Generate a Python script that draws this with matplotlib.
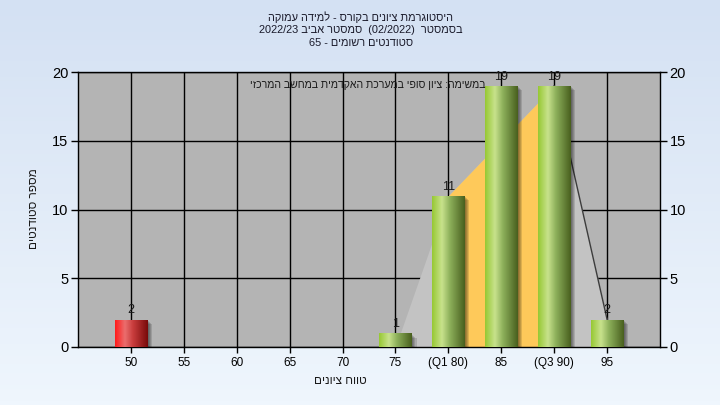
import re
import numpy as np
import matplotlib
matplotlib.use("Agg")
import matplotlib.pyplot as plt
from matplotlib.patches import Rectangle
import matplotlib.patheffects as pe

plt.rcParams['font.family'] = ['Liberation Sans', 'DejaVu Sans']

# data
grade_labels = ['50', '55', '60', '65', '70', '75', '(Q1 80)', '85', '(Q3 90)', '95']
grade_values = [50, 55, 60, 65, 70, 75, 80, 85, 90, 95]
counts = [2, 0, 0, 0, 0, 1, 11, 19, 19, 2]
fail_below = 55

# frequency polygon behind the bars (q1 .. q3 shaded orange)
curve_pos = [5, 6, 8, 9]
curve_vals = [0, 11, 19, 2]
q1_pos, q3_pos = 6, 8

title_lines = [
    'היסטוגרמת ציונים בקורס - למידה עמוקה',
    'בסמסטר  (02/2022)  סמסטר אביב 2022/23',
    'סטודנטים רשומים - 65',
]
note = 'במשימה: ציון סופי במערכת האקדמית במחשב המרכזי'
xlabel = 'טווח ציונים'
ylabel = 'מספר סטודנטים'


def rtl(s):
    # matplotlib has no bidi support: flip to visual order
    r = s[::-1]
    r = re.sub(r'[0-9A-Za-z/.]+', lambda m: m.group(0)[::-1], r)
    return r.translate(str.maketrans('()', ')('))


def gradient(stops):
    t = np.linspace(0, 1, 256)
    pos = [p for p, _ in stops]
    rgb = [np.interp(t, pos, [c[k] / 255 for _, c in stops]) for k in range(3)]
    return np.dstack(rgb)


green = gradient([(0, (150, 200, 50)), (0.3, (200, 226, 140)), (0.55, (140, 175, 90)), (1, (72, 95, 30))])
red = gradient([(0, (255, 25, 25)), (0.3, (235, 110, 110)), (0.55, (200, 60, 60)), (1, (120, 10, 10))])

fig = plt.figure(figsize=(7.2, 4.05), dpi=100)

# background gradient
bg = fig.add_axes([0, 0, 1, 1], zorder=-1)
col = np.linspace(0, 1, 100)[:, None]
top, bot = np.array([212, 225, 243]) / 255, np.array([239, 246, 253]) / 255
bg.imshow((top + (bot - top) * col)[:, None, :].repeat(2, axis=1), aspect='auto', extent=[0, 1, 0, 1])
bg.axis('off')

ax = fig.add_axes([78 / 720, 58 / 405, 582 / 720, 275 / 405])
ax.set_facecolor('#b4b4b4')
ax.set_axisbelow(True)

pos = np.arange(len(grade_labels))

# polygon
ax.fill_between(curve_pos, curve_vals, color='#c3c3c3', lw=0, zorder=1)
i1, i3 = curve_pos.index(q1_pos), curve_pos.index(q3_pos)
ax.fill_between(curve_pos[i1:i3 + 1], curve_vals[i1:i3 + 1], color='#fec95a', lw=0, zorder=1.1)
ax.plot(curve_pos[i3:], curve_vals[i3:], color='#3c3c3c', lw=1, zorder=1.2)

w = 0.62
shadow = [pe.SimplePatchShadow(offset=(d, -d), shadow_rgbFace='black', alpha=0.13) for d in (1, 1.8, 2.6, 3.4)]
for p, g, c in zip(pos, grade_values, counts):
    if c == 0:
        continue
    x0 = p - w / 2
    rect = Rectangle((x0, 0), w, c, facecolor='#888888', edgecolor='none', zorder=3,
                     path_effects=shadow + [pe.Normal()])
    ax.add_patch(rect)
    im = ax.imshow(red if g < fail_below else green, extent=[x0, x0 + w, 0, c],
                   aspect='auto', zorder=3.1, interpolation='bilinear')
    im.set_clip_path(rect)
    ax.annotate(str(c), (p, c), xytext=(0, 4.5), textcoords='offset points',
                ha='center', va='baseline', fontsize=9, color='#1a1a1a', zorder=5)

ax.set_xlim(-1, 10)
ax.set_ylim(0, 20)
ax.set_xticks(pos)
ax.set_xticklabels(grade_labels, fontsize=8.5)
ax.set_yticks(range(0, 21, 5))
ax.grid(color='black', lw=1)
ax.tick_params(axis='x', length=4, width=1, pad=3, colors='black')
ax.tick_params(axis='y', length=5, width=1, labelsize=10.5, right=True, labelright=True, pad=2)
for sp in ax.spines.values():
    sp.set_color('black')
    sp.set_linewidth(1)

# note sits inside the plot, right edge at about x=485px
ax.text((485 - 78) / 582, 0.953, rtl(note), transform=ax.transAxes,
        ha='right', va='center', fontsize=7.6, color='#1a1a1a', zorder=5)

for k, line in enumerate(title_lines):
    fig.text(361 / 720, 1 - (17 + 12.8 * k) / 405, rtl(line), ha='center', va='center',
             fontsize=7.9, color='#1a1a2a')

fig.text(340 / 720, 1 - 381 / 405, rtl(xlabel), ha='center', va='center', fontsize=8.5, color='#1a1a1a')
fig.text(34 / 720, 1 - 209 / 405, rtl(ylabel), ha='center', va='center', rotation=90,
         fontsize=8.5, color='#1a1a1a')

fig.savefig('out.png', dpi=100)
